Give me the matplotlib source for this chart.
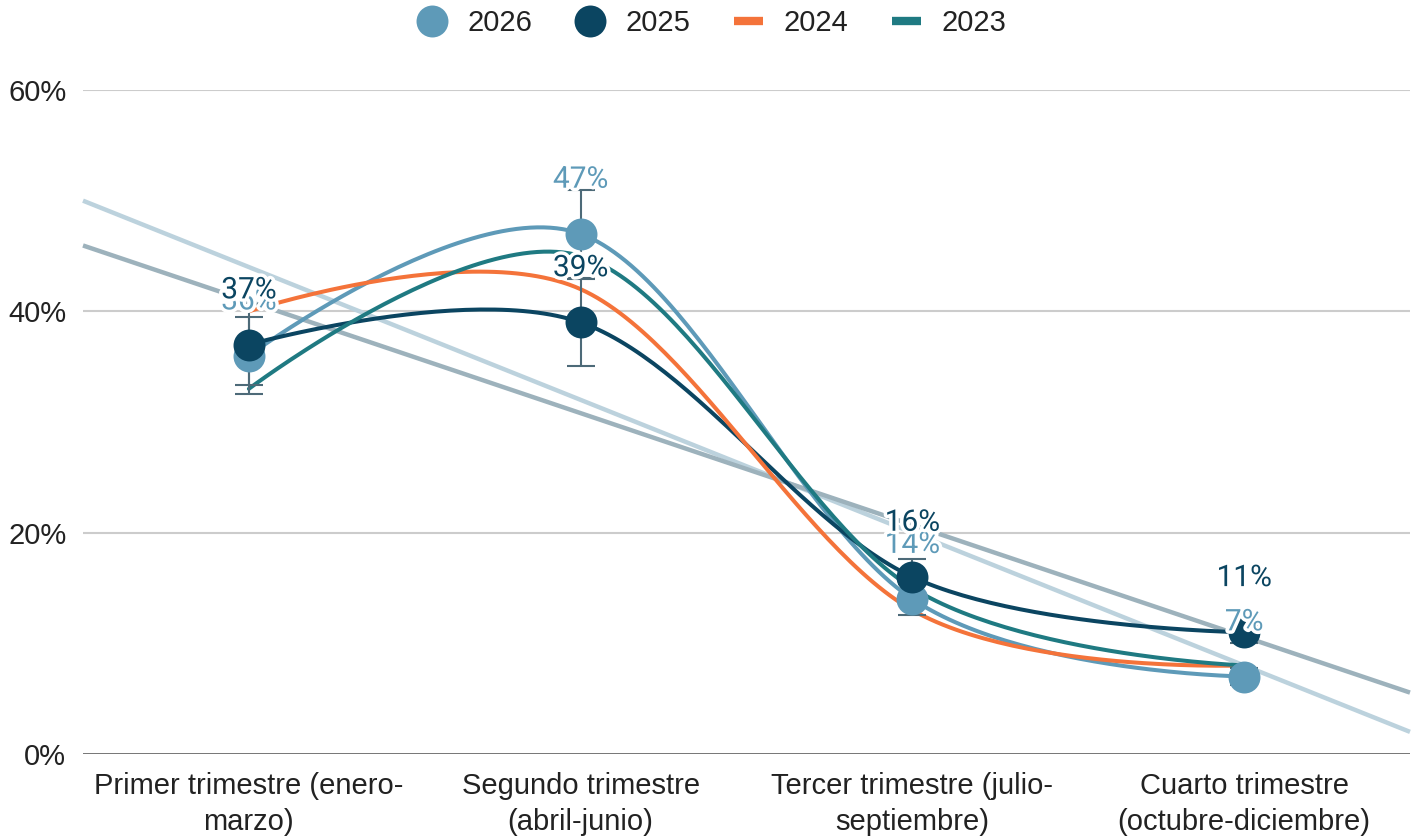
import numpy as np
import matplotlib
matplotlib.use("Agg")
import matplotlib.pyplot as plt
from matplotlib.lines import Line2D
import matplotlib.patheffects as pe

# ---------------- data ----------------
categories = ["Primer trimestre (enero-\nmarzo)", "Segundo trimestre\n(abril-junio)",
              "Tercer trimestre (julio-\nseptiembre)", "Cuarto trimestre\n(octubre-diciembre)"]
series_names = ["2026", "2025", "2024", "2023"]
v2026 = [36, 47, 14, 7]
v2025 = [37, 39, 16, 11]
v2024 = [40, 42, 13, 8]
v2023 = [33, 45, 15, 8]
err2026 = [3.5, 4.0, 1.4, 0.8]
err2025 = [3.7, 3.9, 1.6, 1.0]
yticks = [0, 20, 40, 60]
ytick_labels = ["0%", "20%", "40%", "60%"]

colors = {"2026": "#5e9ab8", "2025": "#0b4561", "2024": "#f4733a", "2023": "#1f7a82"}
trend_colors = {"2026": "#bcd2dd", "2025": "#9db2bc"}
err_color = "#4d6a78"

values = {"2026": v2026, "2025": v2025, "2024": v2024, "2023": v2023}

TICK_FONT = "Liberation Sans"
LABEL_FONT = "Roboto"


def smooth(xs, ys, n=60):
    """Catmull-Rom style bezier with endpoint control = endpoint."""
    xs = np.asarray(xs, float)
    ys = np.asarray(ys, float)
    k = len(xs)
    mx = np.zeros(k)
    my = np.zeros(k)
    for i in range(1, k - 1):
        mx[i] = (xs[i + 1] - xs[i - 1]) / 2
        my[i] = (ys[i + 1] - ys[i - 1]) / 2
    out_x, out_y = [], []
    t = np.linspace(0, 1, n)
    for i in range(k - 1):
        p0 = np.array([xs[i], ys[i]])
        p3 = np.array([xs[i + 1], ys[i + 1]])
        if i == 0:
            c1 = p0
        else:
            c1 = p0 + np.array([mx[i], my[i]]) / 3
        if i + 1 == k - 1:
            c2 = p3
        else:
            c2 = p3 - np.array([mx[i + 1], my[i + 1]]) / 3
        b = ((1 - t) ** 3)[:, None] * p0 + (3 * (1 - t) ** 2 * t)[:, None] * c1 + \
            (3 * (1 - t) * t ** 2)[:, None] * c2 + (t ** 3)[:, None] * p3
        out_x.append(b[:, 0])
        out_y.append(b[:, 1])
    return np.concatenate(out_x), np.concatenate(out_y)


fig = plt.figure(figsize=(14.2, 8.38), dpi=100)
ax = fig.add_axes([83 / 1420, 1 - 754 / 838, (1410 - 83) / 1420, (754 - 90) / 838])

x = np.arange(len(categories))
ax.set_xlim(-0.5, len(categories) - 0.5)
ax.set_ylim(0, 60)

# grid
for yv in yticks[1:]:
    ax.axhline(yv, color="#cccccc", lw=1.5, zorder=0.5)
ax.axhline(0, color="#4d4d4d", lw=1.8, zorder=0.6)

# trend lines (linear regression)
xl = np.array(ax.get_xlim())
for name in ["2026", "2025"]:
    a, b = np.polyfit(x, values[name], 1)
    ax.plot(xl, a * xl + b, color=trend_colors[name], lw=3.2, zorder=1,
            solid_capstyle="butt", clip_on=False)

# curves
for zi, name in enumerate(series_names):
    sx, sy = smooth(x, values[name])
    ax.plot(sx, sy, color=colors[name], lw=2.9, zorder=2 + zi * 0.1,
            solid_capstyle="round", clip_on=False)

# error bars
for name, err in [("2026", err2026), ("2025", err2025)]:
    ax.errorbar(x, values[name], yerr=err, fmt="none", ecolor=err_color,
                elinewidth=1.5, capsize=10, capthick=1.5, zorder=3)

# markers
ax.plot(x, v2026, "o", color=colors["2026"], ms=23, mew=0, zorder=4)
ax.plot(x, v2025, "o", color=colors["2025"], ms=23, mew=0, zorder=4.1)

# data labels
halo = [pe.withStroke(linewidth=5, foreground="white")]
for name in ["2026", "2025"]:
    for xi, v in zip(x, values[name]):
        ax.annotate(f"{v}%", (xi, v), xytext=(0, 39), textcoords="offset points",
                    ha="center", va="center", fontsize=21.5, color=colors[name],
                    family=LABEL_FONT, path_effects=halo, zorder=6,
                    annotation_clip=False)

# axes styling
for s in ax.spines.values():
    s.set_visible(False)
ax.set_yticks(yticks)
ax.set_yticklabels(ytick_labels, fontsize=21, family=TICK_FONT, color="#222222")
ax.set_xticks(x)
ax.set_xticklabels(categories, fontsize=21, family=TICK_FONT, color="#222222",
                   linespacing=1.35)
ax.tick_params(axis="both", length=0)
ax.tick_params(axis="y", pad=12)
ax.tick_params(axis="x", pad=13)

# legend
handles = [
    Line2D([], [], marker="o", ls="none", color=colors["2026"], ms=23, mew=0),
    Line2D([], [], marker="o", ls="none", color=colors["2025"], ms=23, mew=0),
    Line2D([], [], color=colors["2024"], lw=6, solid_capstyle="butt"),
    Line2D([], [], color=colors["2023"], lw=6, solid_capstyle="butt"),
]
leg = fig.legend(handles, series_names, loc="center", bbox_to_anchor=(712 / 1420, 1 - 23 / 838),
                 ncol=4, frameon=False, handlelength=1.0, handletextpad=0.7,
                 columnspacing=1.5, prop={"family": TICK_FONT, "size": 21})
for t in leg.get_texts():
    t.set_color("#222222")

fig.savefig("out.png", dpi=100)
